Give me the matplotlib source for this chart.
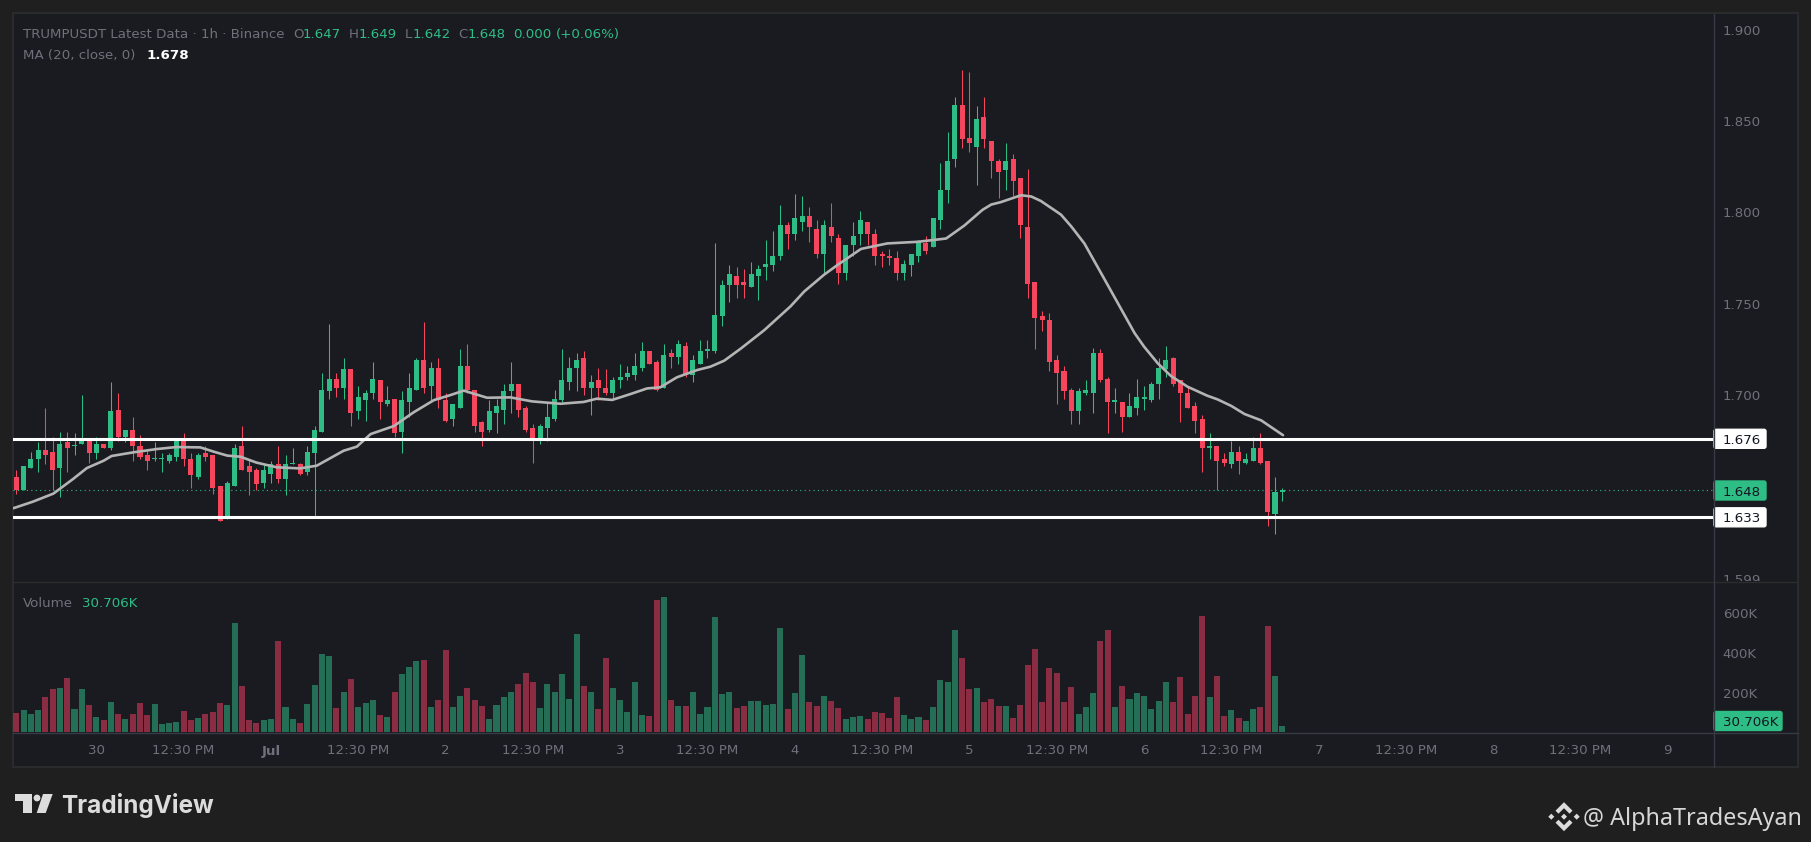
import numpy as np
import matplotlib
matplotlib.use("Agg")
import matplotlib.pyplot as plt
from matplotlib.patches import Polygon, Circle, FancyBboxPatch
from matplotlib.transforms import Bbox

# hourly candles, prices in thousandths of a dollar
OPEN = [1655,1648,1660,1665,1670,1669,1660,1674,1672,1673,
        1675,1668,1673,1671,1692,1677,1681,1672,1667,1665,
        1665,1664,1666,1676,1665,1655,1668,1667,1650,1632,
        1650,1672,1661,1659,1652,1657,1662,1654,1662,1662,
        1658,1668,1680,1702,1709,1704,1714,1691,1697,1701,
        1708,1695,1698,1680,1696,1703,1719,1705,1715,1697,
        1687,1693,1716,1703,1685,1681,1690,1692,1702,1706,
        1693,1682,1676,1682,1687,1697,1707,1715,1720,1704,
        1708,1704,1701,1708,1710,1711,1715,1724,1718,1704,
        1723,1721,1727,1711,1717,1724,1724,1743,1760,1765,
        1762,1759,1765,1770,1771,1776,1793,1788,1795,1798,
        1791,1777,1792,1786,1767,1782,1788,1795,1788,1777,
        1776,1775,1767,1771,1776,1783,1781,1796,1812,1829,
        1859,1841,1836,1852,1839,1828,1823,1829,1819,1792,
        1762,1743,1741,1719,1713,1703,1691,1701,1701,1723,
        1709,1696,1696,1688,1693,1698,1697,1706,1714,1720,
        1708,1701,1694,1687,1671,1672,1665,1662,1669,1663,
        1664,1671,1664,1635,1647]
CLOSE = [1648,1661,1665,1670,1667,1659,1673,1671,1672,1675,
         1668,1673,1671,1691,1677,1681,1672,1666,1664,1665,
         1665,1667,1676,1665,1656,1667,1666,1649,1631,1652,
         1671,1659,1658,1651,1659,1662,1654,1662,1663,1657,
         1669,1681,1703,1709,1704,1714,1690,1699,1701,1709,
         1696,1697,1679,1697,1704,1719,1704,1715,1697,1686,
         1695,1716,1703,1683,1680,1691,1694,1702,1706,1692,
         1681,1675,1683,1688,1698,1708,1715,1719,1704,1707,
         1704,1701,1708,1710,1712,1716,1724,1717,1703,1722,
         1721,1728,1711,1719,1724,1725,1744,1760,1766,1760,
         1760,1766,1769,1772,1776,1793,1788,1797,1798,1792,
         1777,1793,1787,1767,1782,1787,1796,1788,1776,1776,
         1775,1767,1772,1777,1784,1779,1797,1812,1828,1859,
         1840,1838,1851,1840,1828,1822,1828,1817,1793,1761,
         1742,1741,1718,1712,1702,1691,1702,1703,1723,1708,
         1696,1697,1688,1694,1699,1699,1706,1715,1719,1706,
         1701,1693,1686,1671,1672,1664,1663,1669,1664,1665,
         1671,1663,1636,1647,1648]
HIGH = [1659,1661,1669,1674,1693,1677,1680,1680,1679,1700,
        1676,1677,1673,1707,1701,1681,1688,1678,1670,1674,
        1668,1668,1676,1679,1668,1668,1672,1667,1650,1653,
        1673,1683,1665,1660,1662,1664,1672,1667,1671,1663,
        1672,1683,1712,1739,1712,1720,1714,1705,1703,1718,
        1708,1705,1698,1702,1712,1720,1740,1718,1720,1701,
        1695,1725,1728,1703,1686,1697,1698,1706,1718,1706,
        1694,1684,1684,1696,1703,1725,1721,1723,1724,1711,
        1715,1714,1710,1717,1716,1723,1729,1724,1719,1728,
        1725,1730,1729,1722,1730,1730,1783,1763,1771,1770,
        1769,1773,1771,1785,1790,1804,1795,1810,1809,1803,
        1796,1796,1805,1788,1782,1795,1801,1795,1791,1779,
        1780,1779,1774,1777,1785,1787,1797,1827,1844,1863,
        1878,1877,1858,1863,1839,1829,1838,1832,1819,1824,
        1762,1746,1745,1722,1716,1704,1704,1708,1726,1725,
        1710,1704,1696,1701,1709,1705,1707,1720,1727,1721,
        1708,1705,1696,1689,1679,1672,1668,1675,1672,1668,
        1677,1679,1664,1655,1649]
LOW = [1646,1648,1660,1658,1662,1648,1644,1658,1667,1673,
       1663,1665,1671,1670,1675,1674,1664,1665,1659,1664,
       1658,1663,1664,1661,1649,1654,1664,1646,1631,1632,
       1650,1659,1645,1648,1649,1652,1652,1645,1662,1656,
       1656,1634,1680,1698,1699,1698,1683,1687,1686,1698,
       1687,1694,1677,1668,1688,1703,1701,1696,1693,1685,
       1683,1693,1701,1680,1672,1680,1679,1684,1690,1688,
       1680,1663,1673,1675,1686,1696,1703,1702,1700,1689,
       1697,1700,1697,1704,1708,1708,1713,1717,1702,1704,
       1715,1717,1710,1707,1717,1720,1723,1738,1751,1753,
       1753,1759,1752,1763,1768,1774,1780,1785,1790,1784,
       1775,1766,1784,1761,1763,1776,1782,1782,1771,1770,
       1771,1763,1763,1765,1773,1777,1781,1791,1805,1825,
       1835,1833,1815,1835,1819,1808,1812,1809,1786,1753,
       1725,1735,1713,1695,1698,1684,1684,1700,1690,1707,
       1679,1690,1680,1688,1689,1692,1696,1698,1710,1705,
       1685,1693,1679,1658,1665,1648,1661,1660,1657,1662,
       1664,1662,1628,1624,1642]
VOLUME = [96,111,91,111,177,218,223,273,116,218,
          137,76,61,152,91,66,91,147,86,142,
          41,46,51,106,61,71,91,101,147,137,
          552,233,61,46,61,66,461,127,66,46,
          142,238,395,385,122,203,268,127,147,162,
          86,76,203,294,329,360,365,127,162,415,
          127,182,223,162,132,66,137,177,203,243,
          299,253,122,243,203,294,167,496,233,203,
          116,375,223,162,101,253,86,81,668,684,
          162,132,132,203,91,127,582,192,203,122,
          132,157,157,137,142,527,116,197,390,152,
          132,182,157,122,66,76,81,66,101,96,
          71,177,86,66,76,61,127,263,253,517,
          375,218,223,152,167,132,132,71,137,339,
          420,152,324,299,152,228,91,127,197,461,
          517,127,233,167,197,182,116,157,253,152,
          279,91,182,587,177,284,81,111,71,56,
          116,127,537,284,31]

# 20 period moving average, read at these candle positions
MA_POS = [-0.4,2.3,5.1,7.8,9.7,12,13.1,16.1,19.3,22,25.3,27.1,29,30.8,33,35.8,39,41.3,45,46.8,
          48.7,51.9,54.6,57.4,59.7,61.5,64.7,67.9,70.9,74.8,78,79.8,81.9,84.4,86.7,88.5,90.8,93.6,95.4,97.3,
          99.6,102.8,106.4,108.3,111,112.9,116.1,119.7,123.9,127.8,130.3,132.8,134,135.3,138.1,139.5,140.8,
          143.1,143.6,145,146.8,149.1,151.4,153.7,155,156.9,158.7,161,163.7,165.1,167,168.8,171.1,174.1]
MA_VAL = [1638,1641.6,1646,1654,1660,1664,1666.6,1668.6,1670.4,1671.5,1671.3,1669,1666.8,1666.2,1663,1660.4,1659.8,1661.3,1669.5,1671.7,
          1678.6,1683,1690.5,1697.2,1700,1702.4,1698.5,1698.7,1696.5,1695.2,1696.2,1698,1697.3,1700.5,1703.6,1704.2,1709.7,1713.7,1715.5,1718.8,
          1725.5,1735.5,1748.5,1756.7,1765.8,1771.3,1780,1783,1783.9,1785.7,1792.8,1801.4,1804.3,1805.6,1809.4,1808.7,1806.3,
          1800.1,1798.7,1792.3,1783,1766.7,1750.3,1733.9,1726.5,1717.3,1710.4,1704.5,1699.6,1697.6,1694,1689.6,1686.1,1678]

LEVELS = [1.676, 1.633]
LAST_PRICE = 1.648
PRICE_TICKS = [1.900, 1.850, 1.800, 1.750, 1.700, 1.599]
VOL_TICKS = [200, 400, 600]
DAY_POS = [11, 35, 59, 83, 107, 131, 155, 179, 203, 227]
DAY_LABELS = ["30", "Jul", "2", "3", "4", "5", "6", "7", "8", "9"]
HALF_POS = [23, 47, 71, 95, 119, 143, 167, 191, 215]

W, H = 1811, 842
BG_OUT = "#1f1f1f"
BG = "#1a1b20"
BORDER = "#2b2c2e"
SEP = "#363a45"
GREEN = "#2ebd85"
RED = "#f6465d"
GREEN_V = "#236e55"
RED_V = "#8a2d42"
TXT = "#6e717b"
FONT = "DejaVu Sans"
FS = 9.6

plt.rcParams["font.family"] = [FONT]

o = np.array(OPEN) / 1000
c = np.array(CLOSE) / 1000
h = np.array(HIGH) / 1000
l = np.array(LOW) / 1000
v = np.array(VOLUME, dtype=float)
x = np.arange(len(o))
up = c >= o
cols = np.where(up, GREEN, RED)
vcols = np.where(up, GREEN_V, RED_V)


def px_axes(left, top, right, bottom):
    return fig.add_axes([left / W, 1 - bottom / H, (right - left) / W, (bottom - top) / H])


fig = plt.figure(figsize=(W / 100, H / 100), dpi=100, facecolor=BG_OUT)

# frame of the whole chart
back = px_axes(13, 13, 1798, 767)
back.set_facecolor(BG)
back.set_xticks([]); back.set_yticks([])
for s in back.spines.values():
    s.set_color(BORDER); s.set_linewidth(1.4)

# price pane
ax = px_axes(13, 14, 1713, 581)
ax.patch.set_alpha(0)
ax.set_xlim(-0.454, 233.2)
ax.set_ylim(1.7 + (395 - 581) / 1826, 1.7 + (395 - 14) / 1826)
ax.vlines(x, l, h, colors=cols, linewidth=0.75, zorder=2)
ax.bar(x, np.maximum(np.abs(c - o), 0.0006), bottom=np.minimum(o, c), width=0.69, color=cols, linewidth=0, zorder=3)
ax.plot(MA_POS, np.array(MA_VAL) / 1000, color="#b4b4b4", lw=1.9, zorder=4, solid_capstyle="round", solid_joinstyle="round")
ax.axhline(LAST_PRICE, color=GREEN, lw=0.8, ls=(0, (1, 3)), zorder=1)
for lev in LEVELS:
    ax.axhline(lev, color="white", lw=2.2, zorder=5)
ax.set_xticks([])
ax.yaxis.tick_right()
ax.set_yticks(PRICE_TICKS)
ax.set_yticklabels(["%.3f" % t for t in PRICE_TICKS])
ax.tick_params(axis="y", length=0, pad=7, labelcolor=TXT, labelsize=FS)
for t in ax.get_yticklabels():
    t.set_clip_on(True)
    t.set_clip_box(Bbox([[1714, H - 581], [1797, H - 14]]))
for s in ax.spines.values():
    s.set_visible(False)

# volume pane
vx = px_axes(13, 581, 1713, 732)
vx.patch.set_alpha(0)
vx.set_xlim(ax.get_xlim())
vx.set_ylim(0, 151 * 200 / 39.5)
vx.bar(x, v, width=0.83, color=vcols, linewidth=0)
vx.yaxis.tick_right()
vx.set_yticks(VOL_TICKS)
vx.set_yticklabels(["%dK" % t for t in VOL_TICKS])
vx.tick_params(axis="y", length=0, pad=7, labelcolor=TXT, labelsize=FS)
vx.set_xticks(DAY_POS + HALF_POS)
vx.set_xticklabels(DAY_LABELS + ["12:30 PM"] * len(HALF_POS))
vx.tick_params(axis="x", length=0, pad=9, labelcolor=TXT, labelsize=FS)
for t in vx.get_xticklabels():
    if t.get_text() == "Jul":
        t.set_fontweight("bold")
for s in vx.spines.values():
    s.set_visible(False)

# overlay in image pixels for separators, badges, legend text and logos
ov = fig.add_axes([0, 0, 1, 1], zorder=10)
ov.set_xlim(0, W); ov.set_ylim(H, 0); ov.axis("off")
ov.plot([13, 1798], [581.5, 581.5], color=BORDER, lw=1)
ov.plot([13, 1798], [732.5, 732.5], color=SEP, lw=1)
ov.plot([1713.5, 1713.5], [14, 767], color=SEP, lw=1)


def badge(y, label, fc, right=1767):
    ov.add_patch(FancyBboxPatch((1714, y - 9.5), right - 1714 - 1, 19, boxstyle="round,pad=0,rounding_size=2",
                                fc=fc, ec=fc, lw=1))
    ov.text(1723, y, label, color="#131722", fontsize=FS, va="center_baseline", ha="left")


badge(438.8, "1.676", "white")
badge(490.5, "1.648", GREEN)
badge(517.3, "1.633", "white")
badge(721, "30.706K", GREEN, right=1783)

hdr = [(23, "TRUMPUSDT Latest Data · 1h · Binance", TXT), (293, "O", TXT), (303, "1.647", GREEN),
       (349, "H", TXT), (359, "1.649", GREEN), (405, "L", TXT), (413, "1.642", GREEN),
       (458, "C", TXT), (468, "1.648", GREEN), (513, "0.000", GREEN), (556, "(+0.06%)", GREEN)]
for px, s, col in hdr:
    ov.text(px, 33, s, color=col, fontsize=FS, va="center_baseline")
ov.text(23, 54, "MA (20, close, 0)", color=TXT, fontsize=FS, va="center_baseline")
ov.text(146, 54, "1.678", color="white", fontsize=FS, va="center_baseline", fontweight="bold")
ov.text(23, 602, "Volume", color=TXT, fontsize=FS, va="center_baseline")
ov.text(82, 602, "30.706K", color=GREEN, fontsize=FS, va="center_baseline")

# TradingView mark
LOGO = "#dcdcdc"
ov.add_patch(Polygon([(15, 794), (32, 794), (32, 813), (23, 813), (23, 801), (15, 801)], fc=LOGO, ec="none"))
ov.add_patch(Circle((37, 798), 3.4, fc=LOGO, ec="none"))
ov.add_patch(Polygon([(43, 794), (52.7, 794), (45.7, 813), (36.7, 813)], fc=LOGO, ec="none"))
ov.text(61, 803, "TradingView", color=LOGO, fontsize=17.5, family="Inter", fontweight="bold", va="center_baseline")

# Binance mark and watermark
cx, cy = 1564, 816.7
for dx, dy in [(0, 0), (-12.7, 0), (12.7, 0)]:
    ov.add_patch(Polygon([(cx + dx, cy + dy - 3), (cx + dx + 3, cy + dy), (cx + dx, cy + dy + 3), (cx + dx - 3, cy + dy)],
                         fc=LOGO, ec="none"))
for sgn in (-1, 1):
    ov.add_patch(Polygon([(cx, cy + sgn * 14.5), (cx + 8.5, cy + sgn * 6), (cx + 5.5, cy + sgn * 3), (cx, cy + sgn * 8.5),
                          (cx - 5.5, cy + sgn * 3), (cx - 8.5, cy + sgn * 6)], fc=LOGO, ec="none"))
ov.text(1583, 816, "@ AlphaTradesAyan", color="#d6d6d6", fontsize=16.8, family="Noto Sans", va="center_baseline")

fig.savefig("out.png", dpi=100, facecolor=BG_OUT)
